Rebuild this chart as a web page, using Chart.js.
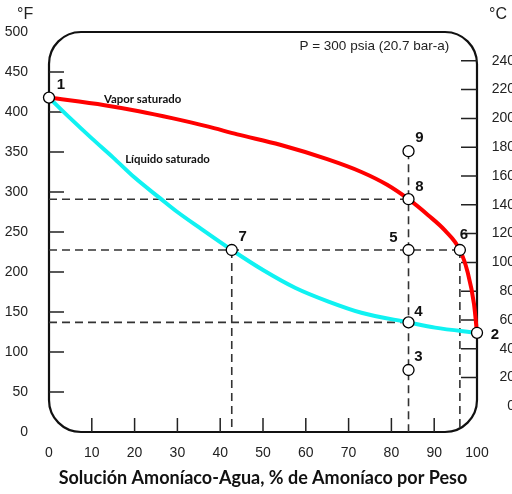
<!DOCTYPE html>
<html>
<head>
<meta charset="utf-8">
<script src="https://cdn.jsdelivr.net/npm/chart.js@4"></script>
<style>
  html, body { margin: 0; padding: 0; background: #fff; overflow: hidden; }
</style>
</head>
<body>
<canvas id="chart" width="515" height="494"></canvas>
<script>
// x = % NH3 by weight, y = temperature in °F
const vaporX = [0, 13, 21, 29, 37, 44, 54, 65, 73, 79, 84, 88.6, 92.5, 96, 97.8, 99.3, 100];
const vaporY = [418, 408.5, 401, 392, 382, 372, 359, 341, 325, 309, 291, 271, 252, 227.5, 200, 160, 124];

const liquidX = [0, 5, 10, 15, 20, 26, 30, 35, 42.7, 50, 57.6, 65.3, 73, 84, 90.2, 100];
const liquidY = [418, 392, 367, 343, 318, 292, 275, 256, 227.5, 202.5, 180, 163, 149, 137, 130.5, 124];

// state points 1..9
const pointNames = ["1", "2", "3", "4", "5", "6", "7", "8", "9"];
const pointX = [0, 100, 84, 84, 84, 96, 42.7, 84, 84];
const pointY = [418, 124, 77.5, 137, 227.5, 227.5, 227.5, 291, 351];

// dashed guides: horizontal ones start at x=0, vertical ones end at y=0
const guideY = [291, 227.5, 137];
const guideYEnd = [84, 96, 84];
const guideX = [42.7, 84, 96];
const guideXTop = [227.5, 351, 227.5];

const xTicks = [0, 10, 20, 30, 40, 50, 60, 70, 80, 90, 100];
const fTicks = [0, 50, 100, 150, 200, 250, 300, 350, 400, 450, 500];
const cTicks = [0, 20, 40, 60, 80, 100, 120, 140, 160, 180, 200, 220, 240];

const toC = f => (f - 32) / 1.8;
const xy = (xs, ys) => xs.map((x, i) => ({ x: x, y: ys[i] }));

const guideData = [];
guideY.forEach((y, i) => {
  guideData.push({ x: 0, y: y }, { x: guideYEnd[i], y: y }, { x: 0, y: null });
});
guideX.forEach((x, i) => {
  guideData.push({ x: x, y: guideXTop[i] }, { x: x, y: 0 }, { x: 0, y: null });
});

const tickFont = { family: "Liberation Sans", size: 14 };

/* ===== rounded frame + inner tick marks ===== */
const framePlugin = {
  id: "frame",
  beforeDatasetsDraw(chart) {
    const { ctx, chartArea: a, scales } = chart;
    ctx.save();
    ctx.strokeStyle = "#111";
    ctx.lineWidth = 2.2;
    ctx.beginPath();
    ctx.roundRect(a.left, a.top, a.right - a.left, a.bottom - a.top, 32);
    ctx.stroke();

    ctx.lineWidth = 1.5;
    ctx.strokeStyle = "#222";
    ctx.beginPath();
    fTicks.slice(1, -1).forEach(v => {
      const y = scales.y.getPixelForValue(v);
      ctx.moveTo(a.left, y); ctx.lineTo(a.left + 15, y);
    });
    xTicks.slice(1, -1).forEach(v => {
      const x = scales.x.getPixelForValue(v);
      ctx.moveTo(x, a.bottom); ctx.lineTo(x, a.bottom - 14);
    });
    cTicks.slice(1).forEach(v => {
      const y = scales.y2.getPixelForValue(v);
      ctx.moveTo(a.right, y); ctx.lineTo(a.right - 16, y);
    });
    ctx.stroke();
    ctx.restore();
  }
};

/* ===== annotations ===== */
const numOffsets = [[12, -13], [18, 2], [10, -13], [10, -11], [-15, -12], [4, -15], [11, -13], [11, -12], [11, -13]];

const textPlugin = {
  id: "texts",
  afterDatasetsDraw(chart) {
    const { ctx, scales } = chart;
    const px = v => scales.x.getPixelForValue(v);
    const py = v => scales.y.getPixelForValue(v);
    ctx.save();
    ctx.fillStyle = "#111";
    ctx.textBaseline = "middle";

    ctx.font = "bold 15px 'Liberation Sans'";
    ctx.textAlign = "center";
    pointNames.forEach((n, i) => {
      ctx.fillText(n, px(pointX[i]) + numOffsets[i][0], py(pointY[i]) + numOffsets[i][1]);
    });

    ctx.font = "bold 11.4px Lato";
    ctx.textAlign = "left";
    ctx.fillText("Vapor saturado", px(12.85), py(416));
    ctx.fillText("Líquido saturado", px(17.8), py(341));

    ctx.font = "13.5px 'Liberation Sans'";
    ctx.fillStyle = "#222";
    ctx.textAlign = "right";
    ctx.fillText("P = 300 psia (20.7 bar-a)", px(93.5), py(482.5));

    ctx.font = "16px 'Liberation Sans'";
    ctx.textAlign = "left";
    ctx.fillText("°F", 17, 15);
    ctx.fillText("°C", 489, 15);
    ctx.restore();
  }
};

new Chart(document.getElementById("chart"), {
  type: "line",
  data: {
    datasets: [
      {
        label: "Puntos",
        data: xy(pointX, pointY),
        showLine: false,
        pointRadius: 5.5,
        pointBackgroundColor: "#fff",
        pointBorderColor: "#000",
        pointBorderWidth: 1.3,
        clip: false,
        order: 0
      },
      {
        label: "Vapor saturado",
        data: xy(vaporX, vaporY),
        borderColor: "#ff0000",
        borderWidth: 4,
        pointRadius: 0,
        cubicInterpolationMode: "monotone",
        clip: false,
        order: 1
      },
      {
        label: "Líquido saturado",
        data: xy(liquidX, liquidY),
        borderColor: "#10f2f2",
        borderWidth: 4,
        pointRadius: 0,
        cubicInterpolationMode: "monotone",
        clip: false,
        order: 2
      },
      {
        label: "Guías",
        data: guideData,
        borderColor: "#333",
        borderWidth: 1.6,
        borderDash: [8, 5],
        pointRadius: 0,
        spanGaps: false,
        order: 3
      }
    ]
  },
  options: {
    responsive: false,
    animation: false,
    layout: { padding: { top: 32, left: 0, right: 0, bottom: 0 } },
    plugins: { legend: { display: false }, tooltip: { enabled: false } },
    scales: {
      x: {
        type: "linear",
        min: 0,
        max: 100,
        afterBuildTicks: s => { s.ticks = xTicks.map(v => ({ value: v })); },
        ticks: { padding: 5, color: "#222", font: tickFont },
        grid: { display: false },
        border: { display: false },
        title: {
          display: true,
          text: "Solución Amoníaco-Agua, % de Amoníaco por Peso",
          color: "#111",
          font: { family: "Lato", size: 18, weight: "bold" },
          padding: { top: 4, bottom: 5 }
        },
        afterFit: s => { s.height = 62; }
      },
      y: {
        position: "left",
        min: 0,
        max: 500,
        afterBuildTicks: s => { s.ticks = fTicks.map(v => ({ value: v })); },
        ticks: { padding: 13, color: "#222", font: tickFont },
        grid: { display: false },
        border: { display: false },
        afterFit: s => { s.width = 49; }
      },
      y2: {
        position: "right",
        min: toC(0),
        max: toC(500),
        afterBuildTicks: s => { s.ticks = cTicks.map(v => ({ value: v })); },
        ticks: { padding: 14, crossAlign: "far", color: "#222", font: tickFont },
        grid: { display: false },
        border: { display: false },
        afterFit: s => { s.width = 38; }
      }
    }
  },
  plugins: [framePlugin, textPlugin]
});
</script>
</body>
</html>
